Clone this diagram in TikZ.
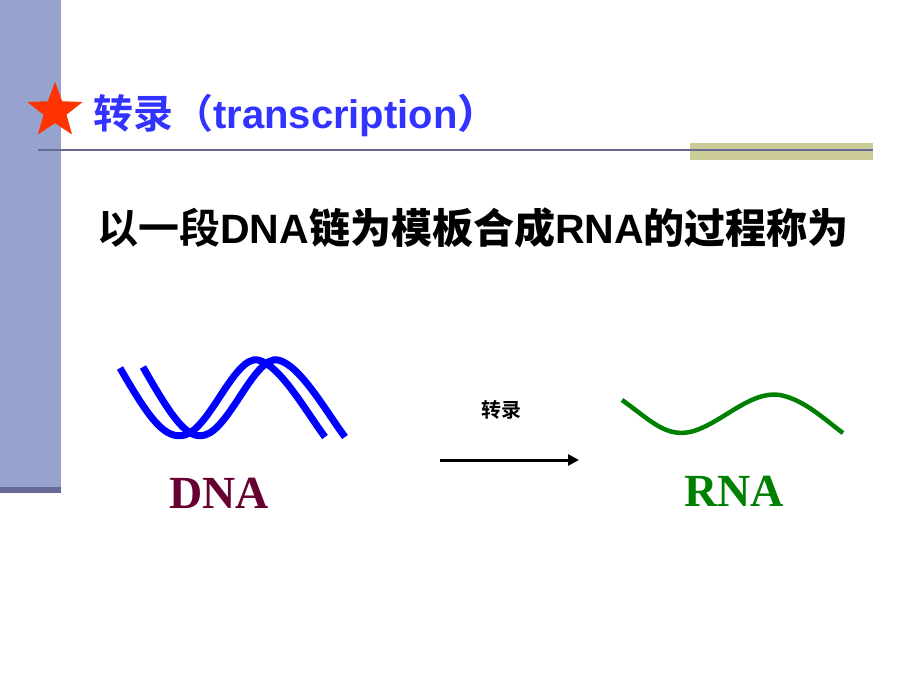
\documentclass[tikz,border=0pt]{standalone}
\usepackage{fontspec}
\setmainfont{Liberation Serif}
\newfontfamily\cjk{Noto Sans CJK SC}
\newfontfamily\cjkb{Noto Sans CJK SC Bold}
\setsansfont{Liberation Sans}
\usetikzlibrary{shapes.geometric,arrows.meta}
\definecolor{barblue}{RGB}{150,163,206}
\definecolor{bardark}{RGB}{105,105,150}
\definecolor{olive}{RGB}{204,204,153}
\definecolor{titleblue}{RGB}{51,51,255}
\definecolor{dnared}{RGB}{102,0,51}
\definecolor{rnagreen}{RGB}{0,128,0}
\definecolor{starred}{RGB}{255,51,0}
\begin{document}
\begin{tikzpicture}[x=1pt,y=-1pt,
  dna/.style={blue,line width=7pt},
  rna/.style={rnagreen,line width=4.5pt}]
\useasboundingbox (0,0) rectangle (920,690);
\fill[barblue] (0,0) rectangle (61,487);
\fill[bardark] (0,487) rectangle (61,493);
\fill[olive] (690,143) rectangle (873,160);
\draw[bardark,line width=1.5pt] (38,150) -- (873,150);
\node[star,star points=5,star point ratio=2.4,fill=starred,minimum size=58pt,inner sep=0pt] (star) at (55,111) {};
\node[anchor=west,text=titleblue,inner sep=0pt] (title) at (93,115) {\fontsize{40}{40}\cjkb 转录（\sffamily\bfseries transcription\cjkb ）};
\node[inner sep=0pt] (def) at (473,228) {\fontsize{41}{41}\cjkb 以一段\sffamily\bfseries DNA\cjkb 链为模板合成\sffamily\bfseries RNA\cjkb 的过程称为};
\draw[dna] (120,368) .. controls (150,420) and (165,440) .. (185,435) .. controls (210,428) and (235,355) .. (258,360) .. controls (280,365) and (305,410) .. (325,437);
\draw[dna] (143,367) .. controls (173,420) and (188,440) .. (205,435) .. controls (230,428) and (255,355) .. (278,360) .. controls (300,365) and (325,410) .. (345,437);
\draw[rna] (622,400) .. controls (650,420) and (665,437) .. (690,432) .. controls (720,425) and (750,390) .. (780,395) .. controls (805,400) and (825,420) .. (843,433);
\node[inner sep=0pt] (lbl) at (501,410) {\fontsize{20}{20}\cjkb 转录};
\coordinate (a0) at (440,460);
\coordinate (a1) at (579,460);
\draw[line width=3pt,-{Triangle[length=11pt,width=11pt]}] (a0) -- (a1);
\node[text=dnared,inner sep=0pt] (dna) at (219,493) {\fontsize{46}{46}\selectfont\bfseries DNA};
\node[text=rnagreen,inner sep=0pt] (rna) at (734,491) {\fontsize{46}{46}\selectfont\bfseries RNA};
\end{tikzpicture}
\end{document}
